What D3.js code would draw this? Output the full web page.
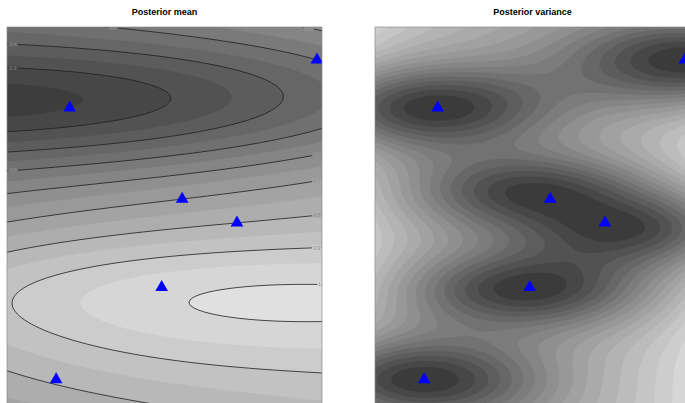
<!DOCTYPE html>
<html>
<head>
<meta charset="utf-8">
<script src="https://cdn.jsdelivr.net/npm/d3@7"></script>
<style>
    body { margin: 0; background: #fff; }
    svg { display: block; font-family: "Liberation Sans", Arial, sans-serif; }
</style>
</head>
<body>
<div id="chart"></div>
<script>
// design points on the unit square and the responses observed there
const obsX = [0.199, 0.984, 0.556, 0.730, 0.491, 0.156];
const obsY = [0.793, 0.916, 0.560, 0.499, 0.334, 0.098];
const obsZ = [0.25, 0.50, 0.70, 0.80, 0.98, 0.81];

// kriging with a linear trend in x; the mean surface and the variance surface
// each get their own squared exponential length scales
const meanLengths = [1.0, 0.13];
const varLengths = [0.38, 0.1];
const nugget = 1e-5;
const trendBasis = (x, y) => [1, x];

const titles = ["Posterior mean", "Posterior variance"];
const lineLevels = [0.3, 0.4, 0.5, 0.6, 0.7, 0.8, 0.9, 1];

const width = 685, height = 403;
const plotW = 315, plotTop = 27, plotBottom = 418;
const cell = 2, pad = 4;

const invert = A => {
    const m = A.length;
    const M = A.map((row, i) => row.concat(d3.range(m).map(j => i === j ? 1 : 0)));
    for (let c = 0; c < m; c++) {
        let p = c;
        for (let r = c + 1; r < m; r++) if (Math.abs(M[r][c]) > Math.abs(M[p][c])) p = r;
        [M[c], M[p]] = [M[p], M[c]];
        const d = M[c][c];
        for (let j = 0; j < 2 * m; j++) M[c][j] /= d;
        for (let r = 0; r < m; r++) {
            if (r === c) continue;
            const f = M[r][c];
            for (let j = 0; j < 2 * m; j++) M[r][j] -= f * M[c][j];
        }
    }
    return M.map(row => row.slice(m));
};
const matVec = (M, v) => M.map(row => d3.sum(row, (a, j) => a * v[j]));
const transpose = M => M[0].map((_, j) => M.map(row => row[j]));
const matMul = (A, B) => A.map(row => B[0].map((_, j) => d3.sum(row, (a, k) => a * B[k][j])));

const n = obsX.length;

const krige = ([lx, ly]) => {
    const kern = (x1, y1, x2, y2) => Math.exp(-0.5 * (((x1 - x2) / lx) ** 2 + ((y1 - y2) / ly) ** 2));
    const Kinv = invert(d3.range(n).map(i => d3.range(n).map(j =>
        kern(obsX[i], obsY[i], obsX[j], obsY[j]) + (i === j ? nugget : 0))));
    const H = d3.range(n).map(i => trendBasis(obsX[i], obsY[i]));
    const Ht = transpose(H);
    const Ainv = invert(matMul(Ht, matMul(Kinv, H)));
    const beta = matVec(Ainv, matVec(Ht, matVec(Kinv, obsZ)));
    const alpha = matVec(Kinv, obsZ.map((z, i) => z - d3.sum(H[i], (h, k) => h * beta[k])));

    return (x, y) => {
        const ks = d3.range(n).map(i => kern(x, y, obsX[i], obsY[i]));
        const h = trendBasis(x, y);
        const Kk = matVec(Kinv, ks);
        const R = h.map((a, k) => a - d3.sum(Ht[k], (b, i) => b * Kk[i]));
        const AR = matVec(Ainv, R);
        return {
            mean: d3.sum(h, (a, k) => a * beta[k]) + d3.sum(ks, (k, i) => k * alpha[i]),
            variance: 1 - d3.sum(ks, (k, i) => k * Kk[i]) + d3.sum(R, (r, k) => r * AR[k])
        };
    };
};

// R style gray ramp with a gamma
const rampColor = (start, end, gamma) => t => {
    const v = Math.round(255 * Math.pow(start ** gamma + t * (end ** gamma - start ** gamma), 1 / gamma));
    return d3.rgb(v, v, v).formatHex();
};

const svg = d3.select("#chart").append("svg")
    .attr("width", width)
    .attr("height", height);

const panels = [
    {x0: 7, key: "mean", model: krige(meanLengths), title: titles[0], ramp: rampColor(0.24, 0.88, 1), lines: true},
    {x0: 375, key: "variance", model: krige(varLengths), title: titles[1], ramp: rampColor(0.23, 0.87, 1.3), lines: false}
];

panels.forEach((panel, pi) => {
    const x = d3.scaleLinear().domain([0, 1]).range([panel.x0, panel.x0 + plotW]);
    const y = d3.scaleLinear().domain([0, 1]).range([plotBottom, plotTop]);
    const field = (px, py) => panel.model(x.invert(px), y.invert(py))[panel.key];

    const gx0 = panel.x0 - pad, gy0 = plotTop - pad;
    const nx = Math.ceil((plotW + 2 * pad) / cell), ny = Math.ceil((plotBottom - plotTop + 2 * pad) / cell);
    const values = new Array(nx * ny);
    for (let j = 0; j < ny; j++) {
        for (let i = 0; i < nx; i++) {
            values[j * nx + i] = field(gx0 + (i + 0.5) * cell, gy0 + (j + 0.5) * cell);
        }
    }

    const [lo, hi] = d3.extent(values);
    const step = d3.tickStep(lo, hi, 20);
    const levels = d3.range(Math.floor(lo / step), Math.ceil(hi / step) + 1).map(k => +(k * step).toFixed(6));
    const shade = i => panel.ramp(i / (levels.length - 2));
    const bandColor = v => shade(Math.max(0, Math.min(levels.length - 2, d3.bisectRight(levels, v) - 1)));

    const clipId = "clip" + pi;
    svg.append("clipPath").attr("id", clipId)
        .append("rect")
        .attr("x", panel.x0).attr("y", plotTop)
        .attr("width", plotW).attr("height", plotBottom - plotTop);

    const g = svg.append("g").attr("clip-path", `url(#${clipId})`);
    const path = d3.geoPath(d3.geoIdentity().scale(cell).translate([gx0, gy0]));

    g.selectAll("path.band")
        .data(d3.contours().size([nx, ny]).thresholds(levels.slice(0, -1))(values))
        .enter().append("path")
        .attr("class", "band")
        .attr("d", path)
        .attr("fill", (d, i) => shade(i))
        .attr("stroke", (d, i) => shade(i))
        .attr("stroke-width", 0.3);

    if (panel.lines) {
        const lineGen = d3.contours().size([nx, ny]);
        const isolines = lineLevels.map(level => lineGen.contour(values, level));

        g.selectAll("path.iso")
            .data(isolines)
            .enter().append("path")
            .attr("class", "iso")
            .attr("d", path)
            .attr("fill", "none")
            .attr("stroke", "#1e1e1e")
            .attr("stroke-width", 0.8);

        const inside = p => p[0] >= panel.x0 && p[0] <= panel.x0 + plotW && p[1] >= plotTop && p[1] <= plotBottom;
        const labels = [];

        const walk = (run, dist) => {
            let acc = 0;
            for (let k = 1; k < run.length; k++) {
                const seg = Math.hypot(run[k][0] - run[k - 1][0], run[k][1] - run[k - 1][1]);
                if (acc + seg >= dist) {
                    const t = (dist - acc) / seg;
                    return [run[k - 1][0] + t * (run[k][0] - run[k - 1][0]), run[k - 1][1] + t * (run[k][1] - run[k - 1][1])];
                }
                acc += seg;
            }
            return run[run.length - 1];
        };

        const addLabel = (run, level) => {
            const text = String(+level.toFixed(2));
            const lw = text.length * 2.6;
            const ends = [run, run.slice().reverse()].map(r => {
                const a = r[0], b = walk(r, 10);
                return {r, angle: Math.atan(Math.abs((b[1] - a[1]) / ((b[0] - a[0]) || 1e-6))), top: a[1]};
            });
            ends.sort((a, b) => Math.abs(a.angle - b.angle) < 0.1 ? a.top - b.top : a.angle - b.angle);
            const c = walk(ends[0].r, lw / 2 + 1.2);
            if (c[1] < height - 6) labels.push({x: c[0], y: c[1], text, w: lw});
        };

        isolines.forEach(iso => {
            iso.coordinates.forEach(poly => poly.forEach(ring => {
                let pts = ring.map(p => [gx0 + p[0] * cell, gy0 + p[1] * cell]);
                const start = pts.findIndex(p => !inside(p));
                if (start < 0) return;
                pts = pts.slice(start).concat(pts.slice(1, start + 1));
                let run = [];
                const flush = () => {
                    if (run.length > 4) addLabel(run, iso.value);
                    run = [];
                };
                pts.forEach(p => inside(p) ? run.push(p) : flush());
                flush();
            }));
        });

        const lab = g.selectAll("g.lab").data(labels).enter().append("g").attr("class", "lab");
        lab.append("rect")
            .attr("x", d => d.x - d.w / 2 - 0.8)
            .attr("y", d => d.y - 2.6)
            .attr("width", d => d.w + 1.6)
            .attr("height", 5.2)
            .attr("fill", d => bandColor(field(d.x, d.y)));
        lab.append("text")
            .attr("x", d => d.x)
            .attr("y", d => d.y + 1.8)
            .attr("text-anchor", "middle")
            .attr("font-size", 5)
            .attr("fill", "#8c8c8c")
            .text(d => d.text);
    }

    g.selectAll("path.obs")
        .data(d3.range(n))
        .enter().append("path")
        .attr("class", "obs")
        .attr("transform", i => `translate(${x(obsX[i])},${y(obsY[i])})`)
        .attr("d", d3.symbol(d3.symbolTriangle, 70))
        .attr("fill", "#0000ff");

    svg.append("rect")
        .attr("x", panel.x0).attr("y", plotTop)
        .attr("width", plotW).attr("height", plotBottom - plotTop)
        .attr("fill", "none")
        .attr("stroke", "#8a8a8a")
        .attr("stroke-width", 0.7);

    svg.append("text")
        .attr("x", panel.x0 + plotW / 2)
        .attr("y", 15)
        .attr("text-anchor", "middle")
        .attr("font-size", 9)
        .attr("font-weight", "bold")
        .text(panel.title);
});
</script>
</body>
</html>
